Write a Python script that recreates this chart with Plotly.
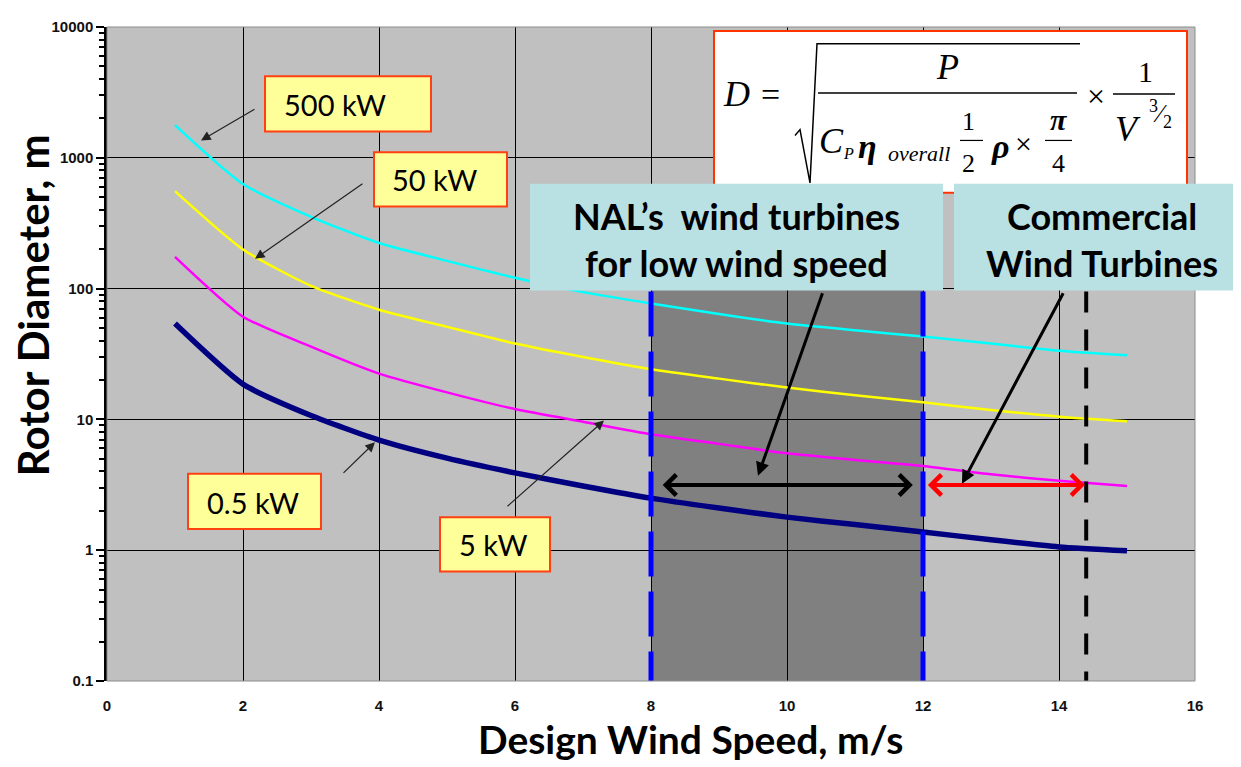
import plotly.graph_objects as go
import math

# ---------------- data ----------------
wind_speed = [1, 2, 3, 4, 5, 6, 7, 8, 9, 10, 11, 12, 13, 14, 15]
d_500kw = [1780, 630, 354, 223, 163, 121, 94, 77, 64, 54, 48, 43, 38, 33.5, 31]
d_50kw = [556, 199, 105, 69, 51, 38, 30, 24.2, 20.5, 17.5, 15.3, 13.5, 11.8, 10.5, 9.7]
d_5kw = [175, 61, 36, 22.4, 16.1, 12.0, 9.6, 7.7, 6.5, 5.5, 4.9, 4.4, 3.8, 3.4, 3.1]
d_05kw = [54, 18.6, 10.7, 6.95, 5.06, 3.9, 3.1, 2.5, 2.1, 1.79, 1.57, 1.38, 1.2, 1.06, 0.99]

nal_range = [8, 12]          # NAL low-wind-speed band
commercial_start = 14.4      # commercial turbines boundary
band_top = 95                # top of the vertical marker lines (m)
arrow_level = 3.15           # height of the double arrows (m)

y_tickvals = [0.1, 1, 10, 100, 1000, 10000]
y_ticktext = ["0.1", "1", "10", "100", "1000", "10000"]
x_tickvals = [0, 2, 4, 6, 8, 10, 12, 14, 16]

# ---------------- layout geometry ----------------
W, H = 1241, 767
OFF = 8                           # default body margin of the html page
L, R, T, B = 107, 1195, 18, 681   # plot area in page pixels


def X(px):
    return (px - L) / (R - L)


def Y(py):
    return (B - py) / (B - T)


fig = go.Figure()

series = [
    ("500 kW", d_500kw, "#00ffff", 2.5),
    ("50 kW", d_50kw, "#ffff00", 2.5),
    ("5 kW", d_5kw, "#ff00ff", 2.5),
    ("0.5 kW", d_05kw, "#000080", 5.5),
]
for name, ys, col, w in series:
    fig.add_trace(go.Scatter(x=wind_speed, y=ys, mode="lines", name=name,
                             line=dict(color=col, width=w, shape="spline", smoothing=0.6)))

# vertical dashed marker lines
for xv in nal_range:
    fig.add_trace(go.Scatter(x=[xv, xv], y=[band_top, 0.1], mode="lines",
                             line=dict(color="#0000ff", width=5, dash="45px,15px")))
fig.add_trace(go.Scatter(x=[commercial_start, commercial_start], y=[band_top, 0.1], mode="lines",
                         line=dict(color="#000000", width=4, dash="21px,17px")))

shapes = []
# shaded NAL band
shapes.append(dict(type="rect", xref="x", yref="paper", x0=nal_range[0], x1=nal_range[1],
                   y0=0, y1=0.62, fillcolor="#808080", line=dict(width=0), layer="below"))
# plot border
shapes.append(dict(type="rect", xref="paper", yref="paper", x0=0, x1=1, y0=0, y1=1,
                   line=dict(color="#8c8c8c", width=1), layer="above"))


def box(x0, y0, x1, y1, fill, border, bw=2):
    shapes.append(dict(type="rect", xref="paper", yref="paper",
                       x0=X(x0), x1=X(x1), y0=Y(y1), y1=Y(y0),
                       fillcolor=fill, line=dict(color=border, width=bw), layer="above"))


def hline(x0, x1, y, w=1.5):
    shapes.append(dict(type="line", xref="paper", yref="paper",
                       x0=X(x0), x1=X(x1), y0=Y(y), y1=Y(y),
                       line=dict(color="black", width=w), layer="above"))


# formula box
box(714, 22, 1187, 186, "white", "#ff3300", 2)
# label boxes
box(265, 68, 431, 124, "#ffff99", "#ff4010", 2)
box(374, 145, 507, 200, "#ffff99", "#ff4010", 2)
box(188, 471, 321, 527, "#ffff99", "#ff4010", 2)
box(440, 515, 550, 570, "#ffff99", "#ff4010", 2)
# blue info boxes
box(530, 177, 943, 285, "#b9e0e3", "#b9e0e3", 0)
box(954, 177, 1241, 285, "#b9e0e3", "#b9e0e3", 0)

# formula lines
pts = [(795, 128), (800, 122), (810, 176), (817, 35), (1080, 35)]
path = "M " + " L ".join(f"{X(a)},{Y(b)}" for a, b in pts)
shapes.append(dict(type="path", xref="paper", yref="paper", path=path,
                   line=dict(color="black", width=1.5), layer="above"))
hline(818, 1077, 85)
hline(960, 983, 133, 1.2)
hline(1045, 1072, 133, 1.2)
hline(1113, 1175, 86)

annotations = []


def txt(s, px, py, size, family="Lato", color="black", xanchor="center", weight="normal", angle=0):
    annotations.append(dict(text=s, x=X(px), y=Y(py), xref="paper", yref="paper",
                            xanchor=xanchor, yanchor="middle", showarrow=False, textangle=angle,
                            font=dict(family=family, size=size, color=color, weight=weight)))


serif = "Liberation Serif, Times New Roman, serif"
txt("<i>D</i>", 736, 86, 36, serif)
txt("=", 770, 86, 34, serif)
txt("<i>P</i>", 947, 59, 36, serif)
txt("<i>C</i>", 831, 134, 36, serif)
txt("<i>P</i>", 848, 146, 16, serif)
txt("<b><i>η</i></b>", 867, 139, 34, serif)
txt("<i>overall</i>", 919, 146, 22, serif)
txt("1", 968, 114, 26, serif)
txt("2", 968, 156, 26, serif)
txt("<b><i>ρ</i></b>", 1000, 139, 34, serif)
txt("×", 1023, 136, 30, serif)
txt("<b><i>π</i></b>", 1058, 112, 30, serif)
txt("4", 1058, 156, 26, serif)
txt("×", 1096, 88, 32, serif)
txt("1", 1145, 63, 30, serif)
txt("<i>V</i>", 1128, 121, 36, serif)
txt("3", 1153, 98, 18, serif)
txt("⁄", 1160, 106, 26, serif)
txt("2", 1167, 114, 18, serif)

# label texts
txt("500 kW", 282, 97, 29, xanchor="left")
txt("50 kW", 390, 173, 29, xanchor="left")
txt("0.5 kW", 205, 500, 29, xanchor="left")
txt("5 kW", 457, 543, 29, xanchor="left")

txt("NAL’s  wind turbines", 736, 210, 36, weight="bold")
txt("for low wind speed", 736, 257, 36, weight="bold")
txt("Commercial", 1102, 210, 36, weight="bold")
txt("Wind Turbines", 1102, 257, 36, weight="bold")

# axis titles
txt("Rotor Diameter, m", 33, 300, 42, weight="bold", angle=-90)
txt("Design Wind Speed, m/s", 690, 740, 39, weight="bold")


def arrow(tail, head, width, color, head_style=2, size=1.0):
    annotations.append(dict(text="", x=X(head[0]), y=Y(head[1]), xref="paper", yref="paper",
                            ax=tail[0] - head[0], ay=tail[1] - head[1], axref="pixel", ayref="pixel",
                            showarrow=True, arrowhead=head_style, arrowsize=size,
                            arrowwidth=width, arrowcolor=color, standoff=0, startstandoff=0))


arrow((256, 101), (201, 133), 1.2, "#222222", 2, 1.6)
arrow((364, 177), (255, 253), 1.2, "#222222", 2, 1.6)
arrow((342, 471), (375, 439), 1.2, "#222222", 2, 1.6)
arrow((506, 504), (604, 417), 1.2, "#222222", 2, 1.6)
arrow((823, 289), (758, 473), 3, "#000000", 2, 0.9)
arrow((1064, 289), (962, 481), 3, "#000000", 2, 0.9)

# double arrows (data coordinates; log axis => log10 for y)
ya = math.log10(arrow_level)
annotations.append(dict(text="", x=nal_range[1] - 0.15, y=ya, ax=nal_range[0] + 0.15, ay=ya,
                        xref="x", yref="y", axref="x", ayref="y", showarrow=True,
                        arrowhead=4, startarrowhead=4, arrowside="end+start", arrowsize=1.0,
                        startarrowsize=1.0, arrowwidth=4, arrowcolor="#000000",
                        standoff=0, startstandoff=0))
annotations.append(dict(text="", x=commercial_start - 0.02, y=ya, ax=nal_range[1] + 0.05, ay=ya,
                        xref="x", yref="y", axref="x", ayref="y", showarrow=True,
                        arrowhead=4, startarrowhead=4, arrowside="end+start", arrowsize=1.0,
                        startarrowsize=1.0, arrowwidth=4, arrowcolor="#ff0000",
                        standoff=0, startstandoff=0))

minor_vals = [m * 10 ** e for e in range(-1, 4) for m in range(2, 10)]

tickfont = dict(family="Liberation Sans Narrow, Arial Narrow, Liberation Sans, sans-serif",
                size=15, color="#111111", weight="bold")

fig.update_layout(
    width=W - OFF, height=H - OFF,
    margin=dict(l=L - OFF, r=W - R, t=T - OFF, b=H - B, pad=0),
    paper_bgcolor="white",
    plot_bgcolor="#c0c0c0",
    showlegend=False,
    shapes=shapes,
    annotations=annotations,
    xaxis=dict(range=[0, 16], tickvals=x_tickvals, showgrid=True, gridcolor="#000000",
               gridwidth=1, zeroline=False, showline=False, ticks="",
               tickfont=tickfont, ticklabelstandoff=14),
    yaxis=dict(type="log", range=[-1, 4], tickvals=y_tickvals, ticktext=y_ticktext,
               showgrid=True, gridcolor="#000000", gridwidth=1, zeroline=False,
               showline=True, linecolor="black", linewidth=2.5,
               ticks="outside", ticklen=8, tickwidth=2, tickcolor="black",
               tickfont=tickfont,
               minor=dict(tickmode="array", tickvals=minor_vals, ticks="outside",
                          ticklen=5, tickwidth=2, tickcolor="black", showgrid=False)),
)

fig.write_html("out.html")
